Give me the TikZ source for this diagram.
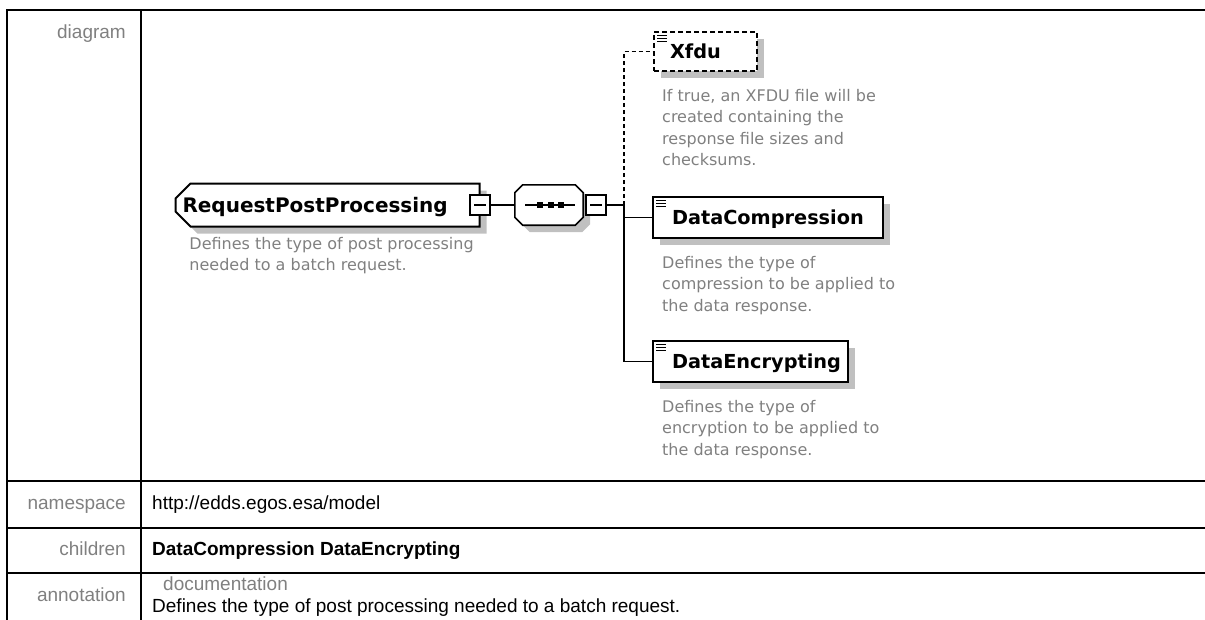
\documentclass[tikz,border=0pt]{standalone}
\usepackage{fontspec}
\setmainfont{Liberation Sans}
\newfontfamily\dgfont{DejaVu Sans}
\usepackage{tikz}
\usetikzlibrary{calc}
\usetikzlibrary{positioning}
\usetikzlibrary{shapes.misc}
\usetikzlibrary{shadows}
\definecolor{labgray}{RGB}{128,128,128}
\definecolor{shgray}{RGB}{192,192,192}
\tikzset{tab/.style={line width=2pt,line cap=rect}}
\tikzset{lab/.style={font=\fontsize{19}{19}\selectfont,text=labgray,inner sep=0pt,text height=14pt,text depth=4pt}}
\tikzset{val/.style={font=\fontsize{19}{19}\selectfont,inner sep=0pt,text height=14pt,text depth=4pt}}
\tikzset{shad/.style={general shadow={fill=shgray,shadow xshift=7pt,shadow yshift=-7pt}}}
\tikzset{elem/.style={draw=black,line width=2pt,fill=white,inner sep=0pt,minimum height=41pt,align=left,shad,
  font=\dgfont\fontsize{19.3}{19.3}\selectfont\bfseries,text height=14pt,text depth=0pt,
  path picture={\foreach \k in {3,6,9} \draw[solid,line width=1pt] ([xshift=3pt,yshift=-\k pt]path picture bounding box.north west) -- ++(10,0);}}}
\tikzset{rppbox/.style={chamfered rectangle,chamfered rectangle corners={north west,south west},
  chamfered rectangle xsep=8pt,chamfered rectangle ysep=8pt,
  draw=black,line width=2pt,fill=white,inner xsep=0pt,inner ysep=0pt,minimum height=43pt,text width=290pt,align=left,shad,
  font=\dgfont\fontsize{20}{20}\selectfont\bfseries,text height=14pt,text depth=0pt}}
\tikzset{seqbox/.style={minimum width=68pt,minimum height=40pt,inner sep=0pt}}
\tikzset{minusbox/.style={draw=black,line width=2pt,fill=white,minimum size=20pt,inner sep=0pt,
  path picture={\draw[line width=1.4pt] ([xshift=4pt]path picture bounding box.west) -- ([xshift=-4pt]path picture bounding box.east);}}}
\tikzset{desc/.style={font=\dgfont\fontsize{16}{21.5}\selectfont,text=labgray,inner sep=0pt,align=left}}
\tikzset{conn/.style={line width=1.6pt}}
\newcommand{\octpath}[1]{([xshift=8pt]#1.north west) -- ([xshift=-8pt]#1.north east) -- ([yshift=-8pt]#1.north east)
  -- ([yshift=8pt]#1.south east) -- ([xshift=-8pt]#1.south east) -- ([xshift=8pt]#1.south west)
  -- ([yshift=8pt]#1.south west) -- ([yshift=-8pt]#1.north west) -- cycle}

\begin{document}
\begin{tikzpicture}[x=1pt,y=-1pt]
\useasboundingbox (0,0) rectangle (1205,619);
\clip (0,0) rectangle (1205,619);

% table
\draw[tab] (7,10) -- (1215,10);
\draw[tab] (7,10) -- (7,630);
\draw[tab] (141,10) -- (141,630);
\foreach \y in {481,528,573} {
	\draw[tab] (7,\y) -- (1215,\y);
}
\foreach \n / \t / \y in {ldia/diagram/33, lns/namespace/504.5, lchi/children/550.5, lann/annotation/596} {
	\node[lab,anchor=east] (\n) at (126,\y) {\t};
}
\node[val,anchor=west] (ns) at (152,504.5) {http://edds.egos.esa/model};
\node[val,anchor=west,font=\fontsize{19}{19}\selectfont\bfseries] (chi) at (152,550.5) {DataCompression DataEncrypting};
\node[lab,anchor=west] (doc) at (163,585) {documentation};
\node[val,anchor=west] (ann) at (152,607) {Defines the type of post processing needed to a batch request.};

% diagram
\node[rppbox] (rpp) at (327.5,205) {RequestPostProcessing};
\node[minusbox] (m1) at (480,205) {};
\node[seqbox] (seq) at (549,205) {};
\fill[shgray,transform canvas={xshift=7pt,yshift=-7pt}] \octpath{seq};
\draw[line width=1.6pt,fill=white] \octpath{seq};
\draw[line width=1.5pt] ([xshift=-24pt]seq.center) -- ([xshift=26pt]seq.center);
\foreach \dx in {-9,2,12} {
	\fill ([xshift=\dx pt]seq.center) +(-3,-3) rectangle +(3,3);
}
\node[minusbox] (m2) at (596,205) {};
\coordinate (tr) at (624,205);

\node[elem,dash pattern=on 5pt off 3pt,minimum width=103pt,minimum height=39pt,text width=103pt] (xf) at (705.5,51.5) {\hspace*{16pt}Xfdu};
\node[elem,minimum width=230pt,text width=230pt] (dc) at (768,217.5) {\hspace*{19pt}DataCompression};
\node[elem,minimum width=195pt,text width=195pt] (de) at (750.5,361.5) {\hspace*{19pt}DataEncrypting};

\draw[conn] (m1.east) -- (seq.west);
\draw[conn] (m2.east) -- (tr);
\draw[conn,dash pattern=on 4pt off 3pt] (tr) |- (xf.west);
\draw[conn] (tr) |- (dc.west);
\draw[conn] (tr) |- (de.west);

\node[desc,below right=17pt and 7pt of rpp.south west] (rpp-d) {Defines the type of post processing\\needed to a batch request.};
\node[desc,below right=17pt and 9pt of xf.south west] (xf-d) {If true, an XFDU file will be\\created containing the\\response file sizes and\\checksums.};
\node[desc,below right=17pt and 10pt of dc.south west] (dc-d) {Defines the type of\\compression to be applied to\\the data response.};
\node[desc,below right=17pt and 10pt of de.south west] (de-d) {Defines the type of\\encryption to be applied to\\the data response.};
\end{tikzpicture}
\end{document}
